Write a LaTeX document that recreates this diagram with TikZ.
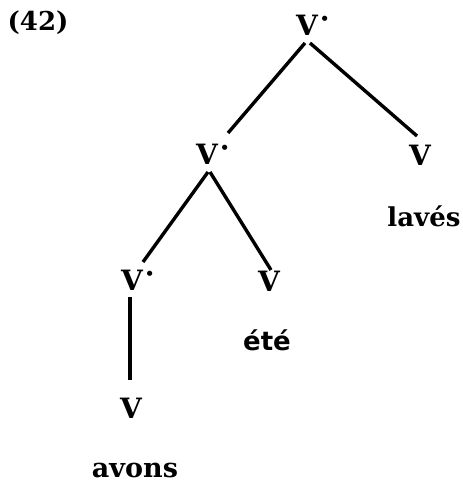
\documentclass[tikz,border=0pt]{standalone}
\usepackage{fontspec}
\setmainfont{DejaVu Serif}
\newfontfamily\wordsans{DejaVu Sans}
\newcommand\bardot{\rlap{\hspace{2pt}\raisebox{7pt}{·}}}
\begin{document}
\begin{tikzpicture}[x=1pt,y=-1pt,
  cat/.style={inner sep=0pt, font=\bfseries\fontsize{28}{28}\selectfont},
  word/.style={inner sep=0pt, anchor=base},
  branch/.style={line width=3.4pt}]
\useasboundingbox (0,0) rectangle (463,485);
\node[word, font=\bfseries\fontsize{26}{26}\selectfont] (ex) at (38,30) {(42)};
\node[cat] (vp1) at (307,25) {V\bardot};
\node[cat] (vp2) at (207,154) {V\bardot};
\node[cat] (v1) at (420,155) {V};
\node[word, font=\bfseries\fontsize{26}{26}\selectfont] (w1) at (424,226) {lavés};
\node[cat] (vp3) at (132,280) {V\bardot};
\node[cat] (v2) at (269,281) {V};
\node[word, font=\wordsans\bfseries\fontsize{26}{26}\selectfont] (w2) at (267,350) {été};
\node[cat] (v3) at (131,408) {V};
\node[word, font=\bfseries\fontsize{27}{27}\selectfont] (w3) at (135,477) {avons};
\draw[branch] ([shift={(-2,18)}]vp1.center) -- ([shift={(21,-21)}]vp2.center);
\draw[branch] ([shift={(3,18)}]vp1.center) -- ([shift={(-3,-19)}]v1.center);
\draw[branch] ([shift={(1,18)}]vp2.center) -- ([shift={(11,-18)}]vp3.center);
\draw[branch] ([shift={(3,18)}]vp2.center) -- ([shift={(2,-11)}]v2.center);
\draw[branch] ([shift={(-2,17)}]vp3.center) -- ([shift={(-1,-28)}]v3.center);
\end{tikzpicture}
\end{document}
